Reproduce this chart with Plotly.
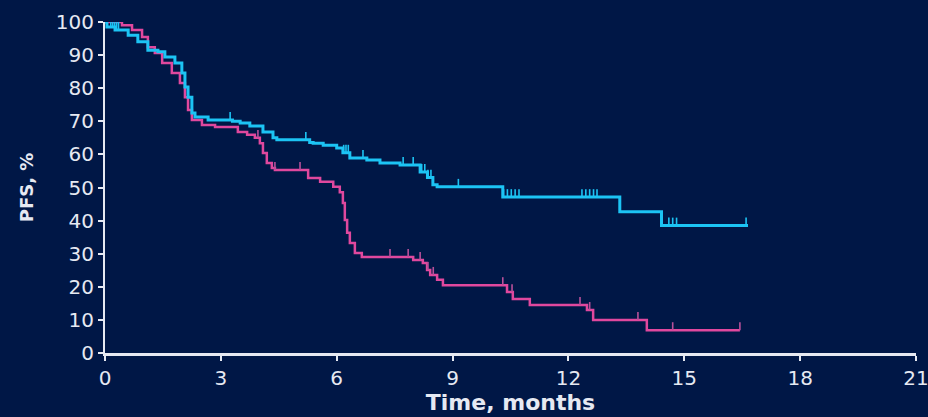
import numpy as np
import plotly.graph_objects as go

# ---- data ----
cyan_t = [0, 0.05, 0.26, 0.6, 0.85, 1.11, 1.37, 1.55, 1.81, 1.99, 2.07, 2.15, 2.25, 2.33, 2.67,
          3.3, 3.5, 3.75, 4.09, 4.35, 4.45, 5.3, 5.39, 5.65, 6.0, 6.16, 6.34, 6.78, 7.12, 7.64,
          8.16, 8.35, 8.49, 8.6, 10.3, 13.33, 14.41, 16.65]
cyan_s = [100, 98.5, 97.6, 96, 94, 91.5, 91, 89.4, 87.6, 84.6, 80.4, 77.3, 72.5, 71.3, 70.4,
          70.0, 69.5, 68.6, 66.8, 65, 64.4, 63.6, 63.4, 62.8, 61.9, 60.5, 58.9, 58.3, 57.4, 56.8,
          54.7, 53.0, 50.8, 50.2, 47.1, 42.7, 38.5, 38.5]
cyan_cens = [0.15, 0.2, 0.25, 0.3, 0.35, 3.24, 5.2, 6.18, 6.24, 6.3, 6.68, 7.72, 7.98,
             8.2, 8.28, 8.36, 8.44, 9.15, 10.32, 10.42, 10.52, 10.62, 10.72,
             12.35, 12.45, 12.55, 12.65, 12.74, 14.6, 14.7, 14.8, 16.6]

mag_t = [0, 0.44, 0.7, 0.96, 1.11, 1.29, 1.48, 1.73, 1.94, 2.07, 2.15, 2.25, 2.51, 2.85,
         3.44, 3.68, 3.88, 4.01, 4.09, 4.19, 4.32, 4.4, 5.26, 5.57, 5.91, 6.08, 6.16, 6.21,
         6.27, 6.34, 6.47, 6.65, 7.98, 8.23, 8.34, 8.42, 8.6, 8.75, 10.41, 10.56, 11.0,
         12.48, 12.64, 14.03, 16.44]
mag_s = [100, 99, 97.6, 95.5, 92.4, 90.6, 87.6, 84.6, 81.6, 77.3, 73.4, 70.4, 68.9, 68.3,
         66.8, 65.9, 65, 63.4, 60.4, 57.4, 55.9, 55.3, 52.9, 51.7, 50.2, 48.6, 45.3, 40.2,
         36.3, 33.2, 30.2, 29, 28.1, 27.2, 25.1, 23.6, 22.1, 20.5, 18.4, 16.3, 14.5,
         13, 10, 6.9, 6.9]
mag_cens = [3.96, 4.4, 5.05, 7.38, 7.85, 8.16, 8.36, 8.5, 10.3, 10.54, 12.3, 12.55,
            13.8, 14.7, 16.44]

x_ticks = [0, 3, 6, 9, 12, 15, 18, 21]
y_ticks = [0, 10, 20, 30, 40, 50, 60, 70, 80, 90, 100]

CYAN = "#1cc4f4"
MAG = "#e0489e"
MAG_TICK = "#b8509a"
BG = "#001746"
FG = "#e6e9f2"
FONT = "DejaVu Sans"


def step_at(times, surv, pts):
    idx = np.searchsorted(np.array(times), np.array(pts), side="right") - 1
    return list(np.array(surv)[np.clip(idx, 0, len(surv) - 1)])


fig = go.Figure()
for t, s, c, col, tcol, w in [(mag_t, mag_s, mag_cens, MAG, MAG_TICK, 2.5),
                              (cyan_t, cyan_s, cyan_cens, CYAN, CYAN, 3)]:
    fig.add_trace(go.Scatter(x=t, y=s, mode="lines", line=dict(color=col, width=w, shape="hv"),
                             cliponaxis=False, showlegend=False, hoverinfo="skip"))
    fig.add_trace(go.Scatter(x=c, y=step_at(t, s, c), mode="markers",
                             marker=dict(size=1, color=col, opacity=0),
                             error_y=dict(type="constant", value=2.4, valueminus=0, symmetric=False,
                                          width=0, thickness=1.6, color=tcol),
                             cliponaxis=False, showlegend=False, hoverinfo="skip"))

axis_common = dict(showgrid=False, zeroline=False, showline=True, linecolor=FG,
                   ticks="outside", ticklen=5, tickwidth=2, tickcolor=FG, automargin=False,
                   ticklabeloverflow="allow",
                   tickfont=dict(family=FONT, size=20, color=FG))

fig.update_xaxes(range=[0, 21], tickvals=x_ticks, linewidth=3,
                 title=dict(text="<b>Time, months</b>", standoff=2,
                            font=dict(family=FONT, size=22, color=FG)),
                 **axis_common)
fig.update_yaxes(range=[0, 100], tickvals=y_ticks, linewidth=2,
                 title=dict(text="<b>PFS, %</b>", standoff=18,
                            font=dict(family=FONT, size=18, color=FG)),
                 **axis_common)

fig.update_layout(width=928, height=417, margin=dict(l=105, r=12, t=22, b=64),
                  paper_bgcolor=BG, plot_bgcolor=BG)

fig.write_html("out.html")
